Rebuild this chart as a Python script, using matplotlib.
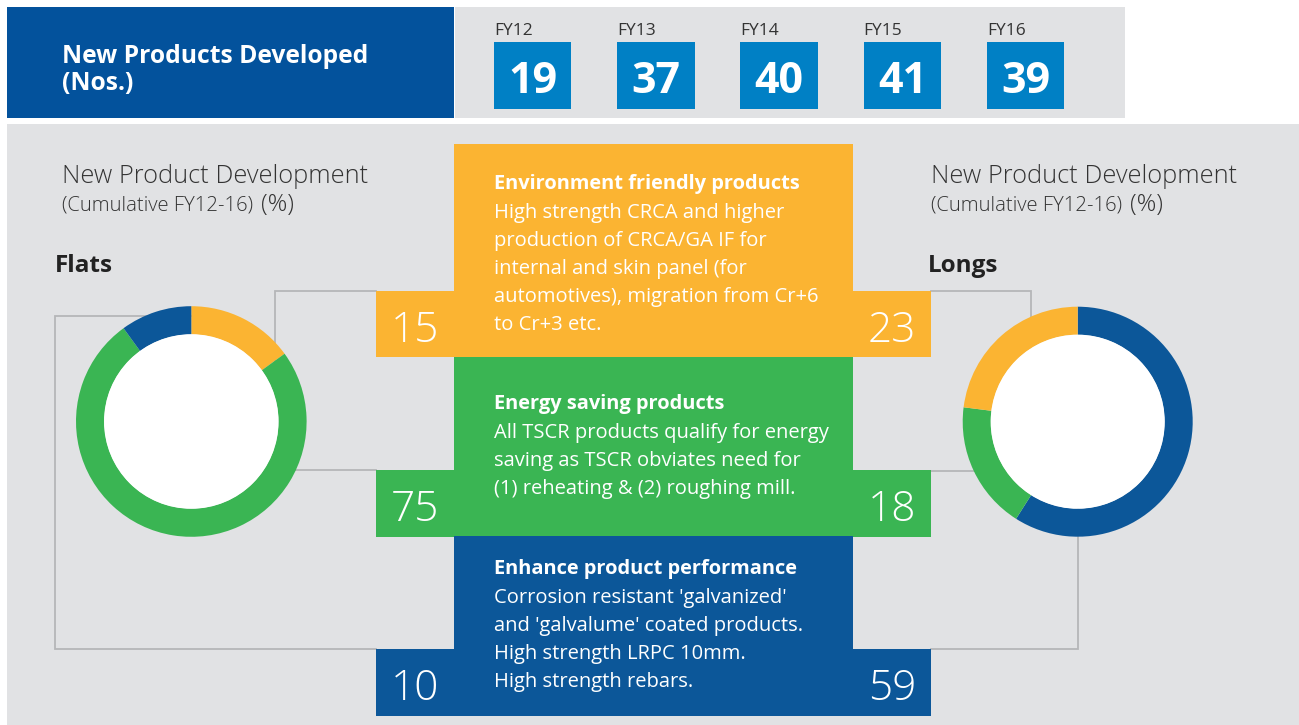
import matplotlib
matplotlib.use("Agg")
import matplotlib.pyplot as plt
from matplotlib.patches import Rectangle, Circle

# ---------------- data ----------------
fy_labels = ["FY12", "FY13", "FY14", "FY15", "FY16"]
fy_values = [19, 37, 40, 41, 39]

categories = ["Environment friendly products", "Energy saving products",
              "Enhance product performance"]
flats_share = [15, 75, 10]
longs_share = [23, 18, 59]

descriptions = [
    ["High strength CRCA and higher",
     "production of CRCA/GA IF for",
     "internal and skin panel (for",
     "automotives), migration from Cr+6",
     "to Cr+3 etc."],
    ["All TSCR products qualify for energy",
     "saving as TSCR obviates need for",
     "(1) reheating & (2) roughing mill."],
    ["Corrosion resistant 'galvanized'",
     "and 'galvalume' coated products.",
     "High strength LRPC 10mm.",
     "High strength rebars."],
]

# ---------------- style ----------------
FONT = "Open Sans"
plt.rcParams['font.family'] = [FONT, 'DejaVu Sans']
W, H = 1299, 725
BG_GRAY = "#e1e2e4"
BANNER_BLUE = "#03529c"
FY_BLUE = "#0080c5"
CAT_COLORS = ["#fbb432", "#3ab553", "#0c5799"]
LINE_GRAY = "#b5b6b8"
TXT = "#333333"

fig = plt.figure(figsize=(W / 100, H / 100), dpi=100)
fig.patch.set_facecolor("white")
ax = fig.add_axes([0, 0, 1, 1])
ax.set_xlim(0, W)
ax.set_ylim(H, 0)
ax.axis("off")


def rect(x0, y0, x1, y1, color, z=1):
    ax.add_patch(Rectangle((x0, y0), x1 - x0, y1 - y0, facecolor=color,
                           edgecolor="none", zorder=z))


# ---- top banner ----
rect(7, 7, 454, 118, BANNER_BLUE)
rect(455.5, 7, 1125, 118, BG_GRAY)
ax.text(62, 63, "New Products Developed", color="white", fontsize=17.7,
        fontweight="bold", va="baseline", ha="left", zorder=3)
ax.text(62, 90, "(Nos.)", color="white", fontsize=17.7,
        fontweight="bold", va="baseline", ha="left", zorder=3)

fy_x0 = 494
fy_step = 123.2
for i, (lab, val) in enumerate(zip(fy_labels, fy_values)):
    x0 = fy_x0 + i * fy_step
    rect(x0, 41.5, x0 + 77.5, 109, FY_BLUE, z=2)
    ax.text(x0, 35, lab, color=TXT, fontsize=12.5, va="baseline", ha="left",
            zorder=3)
    ax.text(x0 + 38.7, 93.3, str(val), color="white", fontsize=31,
            fontweight="bold", va="baseline", ha="center", zorder=3)

# ---- main panel ----
rect(7, 124, W, H, BG_GRAY)

for x0, name in [(62, "Flats"), (931, "Longs")]:
    ax.text(x0, 183.3, "New Product Development", color=TXT, fontsize=18.3,
            fontweight="light", va="baseline", ha="left", zorder=3)
    ax.text(x0, 210.5, "(Cumulative FY12-16)", color=TXT, fontsize=14.6,
            fontweight="light", va="baseline", ha="left", zorder=3)
    ax.text(x0 + 199, 210.5, "(%)", color=TXT, fontsize=17.5,
            fontweight="light", va="baseline", ha="left", zorder=3)
    ax.text(x0 - 7 if name == "Flats" else x0 - 3, 271.5, name, color="#222222",
            fontsize=17.5, fontweight="bold", va="baseline", ha="left",
            zorder=3)

# connector lines (behind donuts)
lw = 1.3
ax.plot([191, 55.5, 55.5, 376], [315.5, 315.5, 649, 649], color=LINE_GRAY,
        lw=lw, zorder=2, solid_joinstyle="miter")
ax.plot([376, 275.5, 275.5, 376], [291, 291, 470.3, 470.3], color=LINE_GRAY,
        lw=lw, zorder=2, solid_joinstyle="miter")
ax.plot([931, 1031.5, 1031.5, 931], [291, 291, 470.5, 470.5], color=LINE_GRAY,
        lw=lw, zorder=2, solid_joinstyle="miter")
ax.plot([1078, 1078, 931], [421, 649, 649], color=LINE_GRAY,
        lw=lw, zorder=2, solid_joinstyle="miter")

# category blocks
blocks = [  # (center top, center bottom, ext top, ext bottom)
    (144, 357, 290.5, 357),
    (357, 536, 470, 536.5),
    (536, 715.5, 649, 715.5),
]
head_base = [189.3, 409.3, 574.3]
num_base = [341.7, 520.7, 700]
for k, (ct, cb, et, eb) in enumerate(blocks):
    c = CAT_COLORS[k]
    rect(454.5, ct, 853.5, cb, c, z=3)
    rect(376, et, 455, eb, c, z=3)
    rect(853, et, 931.5, eb, c, z=3)
    ax.text(494, head_base[k], categories[k], color="white", fontsize=14.4,
            fontweight="bold", va="baseline", ha="left", zorder=4)
    for j, line in enumerate(descriptions[k]):
        ax.text(494, head_base[k] + 28.2 * (j + 1), line, color="white",
                fontsize=14.5, va="baseline", ha="left", zorder=4)
    ax.text(415.5, num_base[k], str(flats_share[k]), color="white",
            fontsize=30.5, fontweight="light", va="baseline", ha="center",
            zorder=4)
    ax.text(892, num_base[k], str(longs_share[k]), color="white",
            fontsize=30.5, fontweight="light", va="baseline", ha="center",
            zorder=4)


# ---- donuts ----
def donut(cx, cy, r, shares, colors):
    pax = fig.add_axes([(cx - r) / W, (H - cy - r) / H, 2 * r / W, 2 * r / H])
    pax.pie(shares, colors=colors, startangle=90, counterclock=False,
            radius=1, wedgeprops=dict(width=0.245, edgecolor="none",
                                      linewidth=0))
    pax.add_patch(Circle((0, 0), 0.757, facecolor="white", edgecolor="none"))
    pax.set_xlim(-1, 1)
    pax.set_ylim(-1, 1)
    pax.set_aspect("equal")
    pax.axis("off")
    pax.patch.set_visible(False)


# Flats: orange, green, blue clockwise from top
donut(191.3, 421.5, 115.3, flats_share, CAT_COLORS)
# Longs: blue, green, orange clockwise from top
donut(1077.7, 421.7, 115, [longs_share[2], longs_share[1], longs_share[0]],
      [CAT_COLORS[2], CAT_COLORS[1], CAT_COLORS[0]])

fig.savefig("out.png", dpi=100, facecolor="white")
